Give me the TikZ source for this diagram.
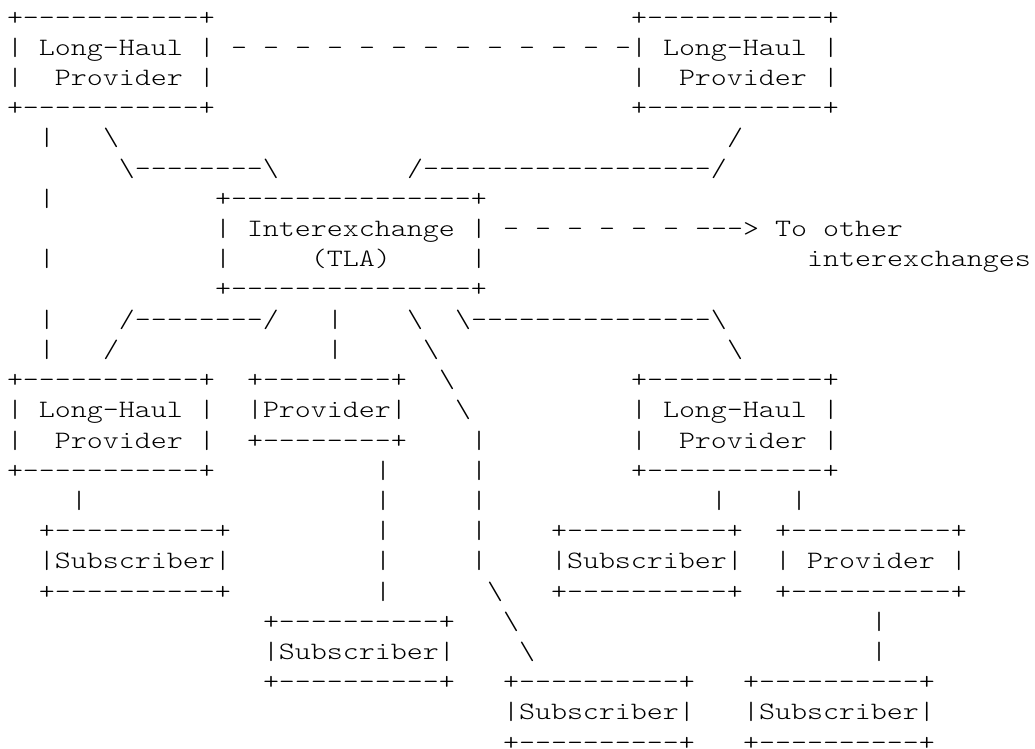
\documentclass[tikz,border=0pt]{standalone}
\usepackage{fontspec}
\newfontfamily\asciifont{lmmonolt10-regular.otf}[FakeStretch=1.219,Ligatures=TeXOff]
\newcommand\bs{\textbackslash}

\begin{document}
\begin{tikzpicture}[
  x=8pt, y=-15.1pt,
  ch/.style={anchor=base west,inner sep=0pt,font=\fontsize{12.5}{15}\asciifont}
]

\path[use as bounding box,fill=white] (0,0) rectangle (517.5pt,-374.5pt);

\begin{scope}[shift={(3.3pt,2.5pt)}]

% long-haul providers
\foreach \c/\r/\n in {0/1/nw,39/1/ne,0/13/sw,39/13/se} {
  \node[ch] (\n-top) at (\c,\r) {+-----------+};
  \node[ch] (\n-a) at (\c,\r+1) {| Long-Haul |};
  \node[ch] (\n-b) at (\c,\r+2) {|~~Provider~|};
  \node[ch] (\n-bot) at (\c,\r+3) {+-----------+};
}

% interexchange
\node[ch] (ix-top) at (13,7) {+---------------+};
\node[ch] (ix-a) at (13,8) {| Interexchange |};
\node[ch] (ix-b) at (13,9) {|~~~~~(TLA)~~~~~|};
\node[ch] (ix-bot) at (13,10) {+---------------+};

\node[ch] (pv-top) at (15,13) {+--------+};
\node[ch] (pv-a) at (15,14) {|Provider|};
\node[ch] (pv-bot) at (15,15) {+--------+};

% subscribers and the lower provider
\foreach \c/\r/\t/\n in {2/18/|Subscriber|/s1,34/18/|Subscriber|/s2,48/18/|~Provider~|/p2,
                         16/21/|Subscriber|/s3,31/23/|Subscriber|/s4,46/23/|Subscriber|/s5} {
  \node[ch] (\n-top) at (\c,\r) {+----------+};
  \node[ch] (\n-a) at (\c,\r+1) {\t};
  \node[ch] (\n-bot) at (\c,\r+2) {+----------+};
}

% dashed links
\foreach \c in {14,16,...,38} \node[ch] (lh\c) at (\c,2) {-};
\foreach \c in {31,33,...,41} \node[ch] (ox\c) at (\c,8) {-};
\node[ch] (ox-tip) at (43,8) {--->};
\node[ch] (ox-a) at (48,8) {To other};
\node[ch] (ox-b) at (50,9) {interexchanges};

% trunk from the upper left provider
\foreach \r in {5,7,9,11,12} \node[ch] (tr\r) at (2,\r) {|};

\node[ch] (ul1) at (6,5) {\bs};
\node[ch] (ul2) at (7,6) {\bs--------\bs};
\node[ch] (ur1) at (45,5) {/};
\node[ch] (ur2) at (25,6) {/------------------/};

\node[ch] (ll1) at (7,11) {/--------/};
\node[ch] (ll2) at (6,12) {/};
\node[ch] (lr1) at (28,11) {\bs---------------\bs};
\node[ch] (lr2) at (45,12) {\bs};

\foreach \r in {11,12} \node[ch] (pv\r) at (20,\r) {|};
\foreach \r in {16,...,20} \node[ch] (pd\r) at (23,\r) {|};

% long diagonal down to the subscriber
\foreach \c/\r in {25/11,26/12,27/13,28/14,30/20,31/21,32/22} \node[ch] (dg\r) at (\c,\r) {\bs};
\foreach \r in {15,...,19} \node[ch] (dv\r) at (29,\r) {|};

\node[ch] (sd) at (4,17) {|};
\node[ch] (rd1) at (44,17) {|};
\node[ch] (rd2) at (49,17) {|};
\foreach \r in {21,22} \node[ch] (pd2\r) at (54,\r) {|};

\end{scope}

\end{tikzpicture}
\end{document}
